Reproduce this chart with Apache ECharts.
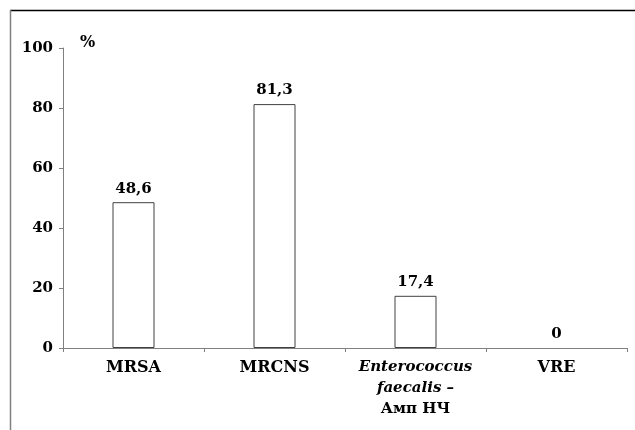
<!DOCTYPE html>
<html><head><meta charset="utf-8">
<script src="https://cdn.jsdelivr.net/npm/echarts@6/dist/echarts.min.js"></script>
<style>html,body{margin:0;padding:0;background:#fff}#c{width:635px;height:430px}</style>
</head><body><div id="c"></div>
<script>
var categories = ['MRSA', 'MRCNS', 'Enterococcus faecalis – Амп НЧ', 'VRE'];
var values = [48.6, 81.3, 17.4, 0];
var yTicks = [0, 20, 40, 60, 80, 100];
var unitLabel = '%';

var FONT = 'DejaVu Serif';
var chart = echarts.init(document.getElementById('c'), null, {renderer: 'canvas'});
chart.setOption({
  animation: false,
  grid: {left: 63, top: 48, right: 8, bottom: 82, containLabel: false},
  xAxis: {
    type: 'category', data: categories, z: 10,
    axisLine: {lineStyle: {color: '#808080', width: 1}},
    axisTick: {show: true, length: 4, lineStyle: {color: '#808080'}},
    axisLabel: {
      margin: 9, interval: 0,
      formatter: function (v) {
        if (v.indexOf('Enterococcus') === 0) return '{i|Enterococcus}\n{i|faecalis –}\n{c|Амп НЧ}';
        return '{b|' + v + '}';
      },
      rich: {
        i: {fontFamily: FONT, fontStyle: 'italic', fontWeight: 'bold', fontSize: 15, color: '#000', lineHeight: 21},
        c: {fontFamily: FONT, fontWeight: 'bold', fontSize: 15, color: '#000', lineHeight: 21},
        b: {fontFamily: FONT, fontWeight: 'bold', fontSize: 16, color: '#000', lineHeight: 21}
      }
    }
  },
  yAxis: {
    type: 'value', min: yTicks[0], max: yTicks[yTicks.length - 1], interval: yTicks[1] - yTicks[0],
    axisLine: {show: true, lineStyle: {color: '#808080'}},
    axisTick: {show: true, length: 4, lineStyle: {color: '#808080'}},
    splitLine: {show: false},
    axisLabel: {margin: 10, fontFamily: FONT, fontWeight: 'bold', fontSize: 15, color: '#000'}
  },
  series: [{
    type: 'bar', z: 1, barWidth: 42,
    data: values.map(function (v) { return v === 0 ? {value: v, itemStyle: {borderColor: 'rgba(0,0,0,0)'}} : v; }),
    itemStyle: {color: '#fff', borderColor: '#404040', borderWidth: 1},
    label: {show: true, position: 'top', distance: 6, fontFamily: FONT, fontWeight: 'bold', fontSize: 15, color: '#000',
      formatter: function (p) { return String(p.value).replace('.', ','); }}
  }],
  graphic: [
    {type: 'line', shape: {x1: 10, y1: 10.5, x2: 635, y2: 10.5}, style: {stroke: '#000', lineWidth: 1.5}},
    {type: 'line', shape: {x1: 10.5, y1: 10, x2: 10.5, y2: 430}, style: {stroke: '#808080', lineWidth: 1.5}},
    {type: 'text', left: 80, top: 35, style: {text: unitLabel, font: 'bold 16px "DejaVu Serif"', fill: '#000'}}
  ]
});
</script></body></html>
